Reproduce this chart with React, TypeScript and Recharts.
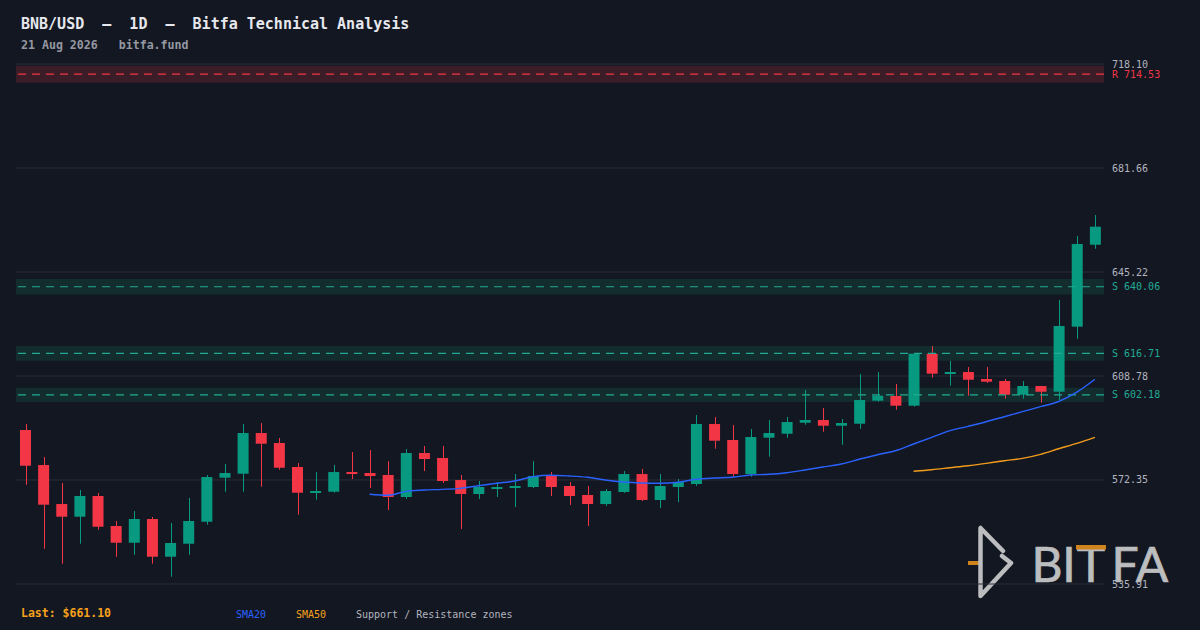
import React from "react";
import {
  ComposedChart,
  Bar,
  Line,
  XAxis,
  YAxis,
  CartesianGrid,
  ReferenceArea,
  ReferenceLine,
} from "recharts";

// daily candles, oldest first
const opens = [
  589.86, 577.6, 563.93, 559.49, 566.74, 556.23, 550.37, 558.68, 545.47, 550.02,
  557.73, 573.15, 574.55, 588.81, 585.31, 576.9, 567.89, 568.24, 575.14, 574.8,
  574.1, 566.39, 581.8, 580.05, 572.34, 567.44, 569.54, 569.54, 569.89, 573.74,
  570.24, 567.09, 563.93, 568.14, 574.44, 565.34, 569.89, 570.94, 591.96, 586.36,
  574.44, 587.17, 588.56, 592.42, 593.36, 591.37, 592.07, 600.13, 601.77, 598.38,
  616.6, 609.59, 610.18, 607.73, 607.03, 602.23, 605.28, 603.28, 626.06, 654.78,
];
const highs = [
  591.96, 580.4, 571.29, 568.84, 567.79, 557.98, 561.48, 559.38, 557.28, 566.04,
  574.1, 577.95, 591.96, 592.31, 587.06, 578.3, 575.14, 577.6, 582.15, 582.85,
  578.95, 583.2, 584.26, 584.26, 574.1, 571.99, 571.64, 574.44, 578.95, 575.14,
  571.64, 570.24, 569.19, 575.5, 576.2, 574.44, 572.69, 595.11, 594.41, 591.61,
  590.21, 593.36, 594.41, 603.88, 597.57, 593.71, 609.48, 610.18, 605.98, 616.73,
  619.29, 614.04, 611.93, 611.93, 607.73, 607.03, 605.28, 635.41, 657.83, 665.19,
];
const lows = [
  570.69, 548.27, 543.02, 550.02, 554.93, 545.47, 546.17, 543.02, 538.46, 546.17,
  556.68, 568.24, 568.24, 570.0, 575.95, 560.19, 565.44, 567.89, 572.69, 569.54,
  561.83, 565.69, 575.5, 571.29, 555.17, 565.69, 566.39, 562.88, 569.5, 566.74,
  563.58, 556.23, 563.23, 567.8, 564.99, 562.53, 564.64, 570.24, 583.31, 573.5,
  573.5, 580.51, 587.17, 591.72, 589.27, 584.71, 590.31, 599.78, 596.97, 598.03,
  608.19, 605.38, 601.88, 606.33, 600.83, 600.83, 599.43, 600.37, 621.85, 653.38,
];
const closes = [
  577.35, 563.69, 559.49, 566.74, 555.98, 550.37, 558.68, 545.47, 550.27, 557.98,
  573.39, 574.8, 588.81, 585.06, 576.65, 567.89, 568.49, 575.14, 574.44, 573.74,
  566.39, 581.8, 579.7, 571.99, 567.44, 569.89, 569.89, 570.24, 573.74, 569.89,
  566.74, 563.93, 568.49, 574.44, 565.34, 570.24, 571.64, 591.96, 586.11, 574.44,
  587.41, 588.81, 592.66, 593.36, 591.37, 592.31, 600.37, 601.88, 598.38, 616.6,
  609.59, 610.18, 607.48, 606.79, 602.23, 605.28, 603.28, 626.3, 655.03, 661.1,
];

// moving averages as drawn (null = not yet defined)
const sma20 = [
  null, null, null, null, null, null, null, null, null, null,
  null, null, null, null, null, null, null, null, null, 567.33,
  566.98, 568.38, 568.84, 569.08, 569.43, 570.34, 571.19, 571.99, 573.5, 573.99,
  573.74, 573.29, 572.34, 571.64, 571.29, 571.19, 571.54, 572.59, 573.04, 573.3,
  574.1, 574.34, 574.9, 575.85, 576.9, 577.95, 579.6, 581.2, 582.6, 584.96,
  587.3, 589.62, 591.16, 592.77, 594.52, 596.28, 598.03, 599.85, 603.11, 607.63,
];
const sma50 = [
  null, null, null, null, null, null, null, null, null, null,
  null, null, null, null, null, null, null, null, null, null,
  null, null, null, null, null, null, null, null, null, null,
  null, null, null, null, null, null, null, null, null, null,
  null, null, null, null, null, null, null, null, null, 575.39,
  575.95, 576.65, 577.35, 578.19, 579.1, 579.94, 581.35, 583.31, 585.2, 587.3,
];

const yTicks = [535.91, 572.35, 608.78, 645.22, 681.66, 718.1];

// support / resistance zones
const zoneLevels = [714.53, 640.06, 616.71, 602.18];
const zoneKinds = ["R", "S", "S", "S"];
const zoneLows = [711.53, 637.37, 614.12, 599.65];
const zoneHighs = [717.53, 642.75, 619.3, 604.71];

const lastPrice = 661.1;

const BG = "#131722";
const GREEN = "#089981";
const RED = "#f23645";
const TEAL = "#22ab94";
const MONO = "'DejaVu Sans Mono', monospace";
const LOGO_GREY = "#d4d4d4";
const LOGO_ORANGE = "#e8921c";

const data = closes.map((c, i) => ({
  i,
  open: opens[i],
  high: highs[i],
  low: lows[i],
  close: c,
  sma20: sma20[i],
  sma50: sma50[i],
}));

const Candle = (props: any) => {
  const { x, y, width, height, payload } = props;
  if (!payload) return null;
  const { open, close, high, low } = payload;
  const top = Math.min(y, y + height);
  const h = Math.abs(height);
  const ppu = high === low ? 0 : h / (high - low);
  const color = close >= open ? GREEN : RED;
  const bodyTop = top + (high - Math.max(open, close)) * ppu;
  const bodyH = Math.max(2, Math.abs(open - close) * ppu);
  const cx = Math.round(x + width / 2) + 0.5;
  return (
    <g>
      <line x1={cx} x2={cx} y1={top} y2={top + h} stroke={color} strokeWidth={1} />
      <rect x={x} y={bodyTop} width={width} height={bodyH} fill={color} />
    </g>
  );
};

const PriceTick = (props: any) => {
  const { x, y, payload } = props;
  return (
    <text x={x} y={y} dy={3.5} fill="#b2b5be" fontSize={10} fontFamily={MONO}>
      {Number(payload.value).toFixed(2)}
    </text>
  );
};

export default function App() {
  return (
    <div
      style={{
        position: "absolute",
        left: 0,
        top: 0,
        width: 1200,
        height: 630,
        background: BG,
        overflow: "hidden",
      }}
    >
      <svg width={1200} height={630} style={{ position: "absolute", left: 0, top: 0 }}>
        <text x={21} y={29} fill="#e6e8ee" fontSize={15} fontWeight="bold" fontFamily={MONO} style={{ whiteSpace: "pre" }}>
          {"BNB/USD  –  1D  –  Bitfa Technical Analysis"}
        </text>
        <text x={21} y={49} fill="#9598a1" fontSize={11.6} fontWeight="bold" fontFamily={MONO} style={{ whiteSpace: "pre" }}>
          {"21 Aug 2026   bitfa.fund"}
        </text>

        {/* watermark */}
        <g opacity={0.88}>
          <line x1={968} y1={563} x2={979} y2={563} stroke={LOGO_ORANGE} strokeWidth={4} />
          <polyline
            points="1003,551 980.5,528 980.5,596 1011,563 1002,556"
            fill="none"
            stroke={LOGO_GREY}
            strokeWidth={4.5}
            strokeLinecap="round"
            strokeLinejoin="round"
          />
          <text
            x="1047 1069 1091 1125 1152"
            y={582}
            textAnchor="middle"
            fill={LOGO_GREY}
            stroke={LOGO_GREY}
            strokeWidth={0.7}
            fontSize={48}
            fontFamily="Lato, sans-serif"
          >
            BITFA
          </text>
          <rect x={1076} y={545} width={30} height={4.5} fill={LOGO_ORANGE} />
        </g>

        <text x={21} y={617} fill="#f7a21b" fontSize={11.5} fontWeight="bold" fontFamily={MONO}>
          {`Last: $${lastPrice.toFixed(2)}`}
        </text>
        <text x={236} y={618} fill="#2962ff" fontSize={10} fontFamily={MONO}>SMA20</text>
        <text x={296} y={618} fill="#f7a21b" fontSize={10} fontFamily={MONO}>SMA50</text>
        <text x={356} y={618} fill="#b2b5be" fontSize={10} fontFamily={MONO}>Support / Resistance zones</text>
      </svg>

      <div style={{ position: "absolute", left: 0, top: 0 }}>
        <ComposedChart
          width={1200}
          height={630}
          data={data}
          margin={{ top: 64, right: 8, bottom: 46, left: 16 }}
        >
          <CartesianGrid vertical={false} stroke="#2a2e39" strokeWidth={1} />
          <XAxis dataKey="i" type="category" hide />
          <YAxis
            orientation="right"
            width={88}
            domain={[yTicks[0], yTicks[yTicks.length - 1]]}
            ticks={yTicks}
            axisLine={false}
            tickLine={false}
            tickSize={0}
            tickMargin={8}
            tick={<PriceTick />}
            interval={0}
          />
          {zoneLevels.map((lv, k) => (
            <ReferenceArea
              key={`za${k}`}
              y1={zoneLows[k]}
              y2={zoneHighs[k]}
              fill={zoneKinds[k] === "R" ? "#3b1d28" : "#132c2e"}
              fillOpacity={1}
              stroke="none"
            />
          ))}
          {zoneLevels.map((lv, k) => (
            <ReferenceLine
              key={`zl${k}`}
              y={lv}
              stroke={zoneKinds[k] === "R" ? RED : TEAL}
              strokeDasharray="8 6"
              strokeWidth={1.2}
              label={{
                value: `${zoneKinds[k]} ${lv.toFixed(2)}`,
                position: "right",
                offset: 8,
                fill: zoneKinds[k] === "R" ? RED : TEAL,
                fontSize: 10,
                fontFamily: MONO,
              }}
            />
          ))}
          <Bar
            dataKey={(d: any) => [d.low, d.high]}
            barSize={11}
            shape={<Candle />}
            isAnimationActive={false}
          />
          <Line
            dataKey="sma20"
            type="monotone"
            stroke="#2962ff"
            strokeWidth={1.4}
            dot={false}
            activeDot={false}
            isAnimationActive={false}
          />
          <Line
            dataKey="sma50"
            type="monotone"
            stroke="#f39c1c"
            strokeWidth={1.4}
            dot={false}
            activeDot={false}
            isAnimationActive={false}
          />
        </ComposedChart>
      </div>
    </div>
  );
}
